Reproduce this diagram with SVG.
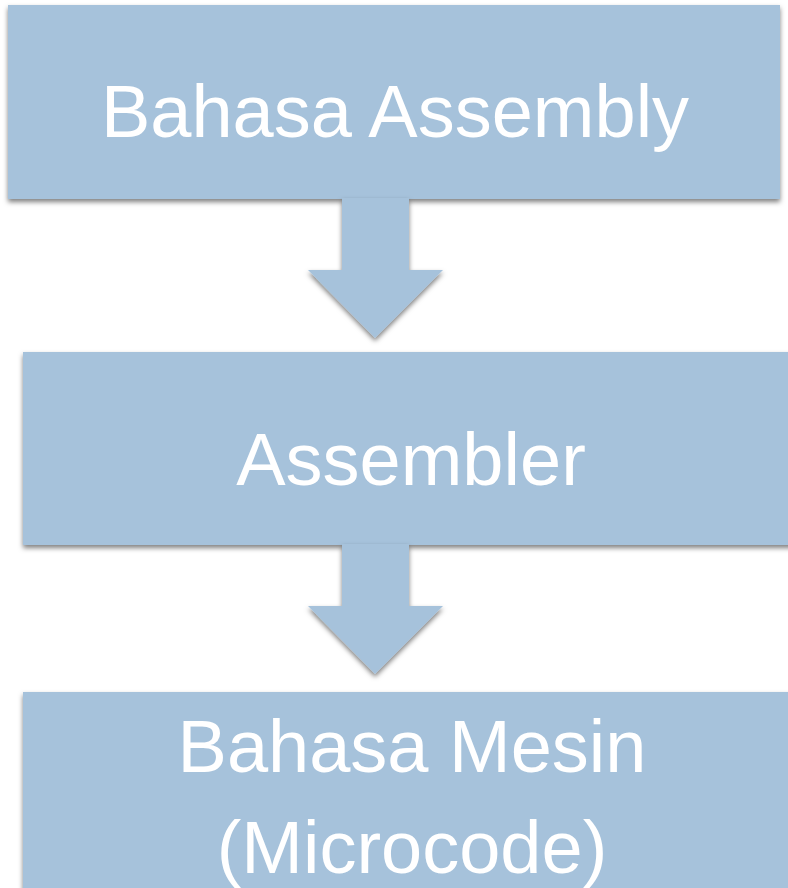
<svg xmlns="http://www.w3.org/2000/svg" width="788" height="888" viewBox="0 0 788 888">
  <defs>
    <filter id="sh" x="-10%" y="-10%" width="120%" height="130%">
      <feDropShadow dx="0" dy="3" stdDeviation="2.5" flood-color="#000" flood-opacity="0.5"/>
    </filter>
  </defs>
  <style>
    .box { fill: #A6C2DB; filter: url(#sh); }
    .arr { fill: #A6C2DB; filter: url(#sh); }
    .lbl { fill: #FFFFFF; font-family: "Liberation Sans", Arial, sans-serif; font-size: 74px; text-anchor: middle; }
  </style>
  <rect width="788" height="888" fill="#FFFFFF"/>
  <g id="node-assembly">
    <rect class="box" x="8" y="5" width="772" height="194"/>
    <text class="lbl" x="395" y="137">Bahasa Assembly</text>
  </g>
  <g id="node-assembler">
    <rect class="box" x="23" y="352" width="776" height="193"/>
    <text class="lbl" x="411" y="485">Assembler</text>
  </g>
  <g id="node-mesin">
    <rect class="box" x="23" y="692" width="776" height="210"/>
    <text class="lbl" x="412" y="772">Bahasa Mesin</text>
    <text class="lbl" x="412" y="873">(Microcode)</text>
  </g>
  <g id="connectors">
    <polygon class="arr" points="342,198 409,198 409,270 443,270 375,338 308,270 342,270"/>
    <polygon class="arr" points="342,544 409,544 409,606 443,606 375,674 308,606 342,606"/>
  </g>
</svg>
